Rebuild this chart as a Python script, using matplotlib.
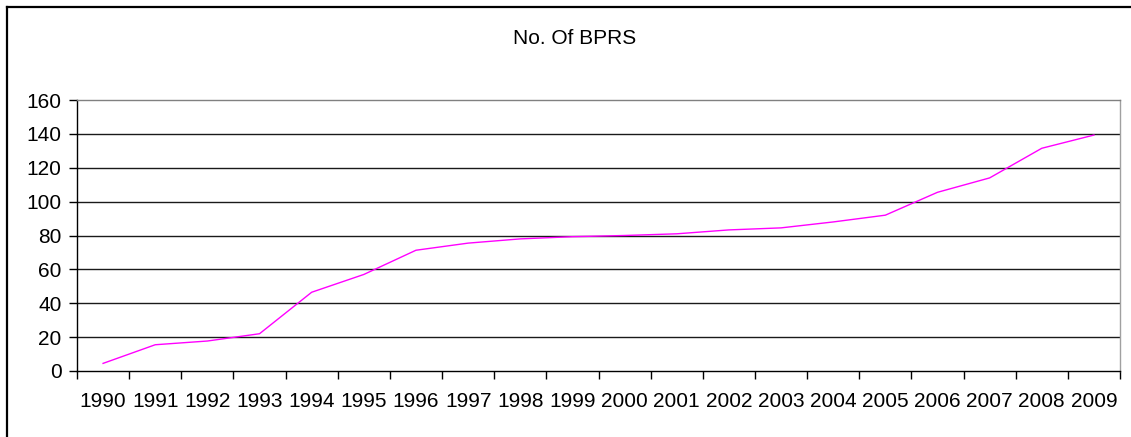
import matplotlib
matplotlib.use('Agg')
import matplotlib.pyplot as plt
from matplotlib.lines import Line2D

# 1 - Data

years = ['1990', '1991', '1992', '1993', '1994', '1995', '1996', '1997', '1998', '1999',
         '2000', '2001', '2002', '2003', '2004', '2005', '2006', '2007', '2008', '2009']
bprs = [4.5, 15.5, 17.7, 22, 46.5, 57, 71.3, 75.5, 78, 79.3,
        80, 81, 83.3, 84.5, 88, 92, 105.5, 114, 131.5, 139.3]

# 2 - Plot

plt.rcParams['font.family'] = ['Liberation Sans', 'DejaVu Sans']

W, H = 1131, 437
fig = plt.figure(figsize=(W / 100, H / 100), dpi=100)
ax = fig.add_axes([77 / W, 1 - 371 / H, (1120 - 77) / W, (371 - 100) / H])

xs = list(range(len(years)))
ax.plot(xs, bprs, color='#ff00ff', lw=1.0, zorder=3)

ax.set_xlim(-0.5, len(years) - 0.5)
ax.set_ylim(0, 160)
ax.set_yticks(range(0, 161, 20))
# inner gridlines, the top edge is the grey plot border
for v in range(20, 160, 20):
    ax.axhline(v, color='#1a1a1a', lw=1.0, zorder=1)

# category boundaries get the tick marks, centres get the labels
ax.set_xticks([i - 0.5 for i in range(len(years) + 1)])
ax.set_xticklabels([])
ax.set_xticks(xs, minor=True)
ax.set_xticklabels(years, minor=True)
ax.tick_params(axis='x', which='major', length=6, width=1, direction='out', color='black')
ax.tick_params(axis='x', which='minor', length=0, pad=15, labelsize=15)
ax.tick_params(axis='y', length=6, width=1, labelsize=15, pad=5)

ax.spines['top'].set_color('#808080')
ax.spines['right'].set_color('#a0a0a0')
ax.spines['left'].set_color('black')
ax.spines['bottom'].set_color('black')
for s in ax.spines.values():
    s.set_linewidth(1.0)

fig.text(575 / W, 1 - 39 / H, 'No. Of BPRS', ha='center', va='center', fontsize=15)

# outer frame, only the top and left edges show
fig.add_artist(Line2D([7 / W, 7 / W], [0, 1 - 7 / H], transform=fig.transFigure,
                      color='black', lw=1.6))
fig.add_artist(Line2D([7 / W, 1], [1 - 7 / H, 1 - 7 / H], transform=fig.transFigure,
                      color='black', lw=1.6))

plt.savefig('out.png', dpi=100)
